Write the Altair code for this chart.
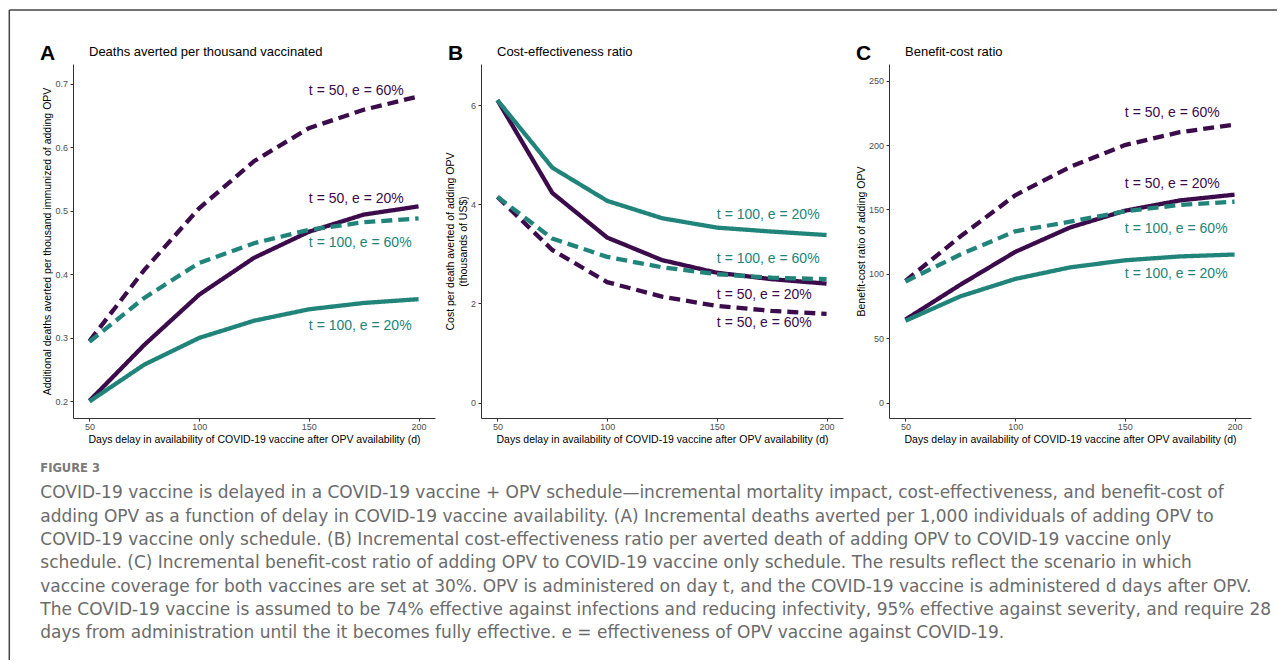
import altair as alt
import pandas as pd

days = [50, 75, 100, 125, 150, 175, 200]
series = ["t = 50, e = 60%", "t = 50, e = 20%", "t = 100, e = 60%", "t = 100, e = 20%"]
series_t = ["t = 50", "t = 50", "t = 100", "t = 100"]
series_e = ["60%", "20%", "60%", "20%"]

# Panel A: deaths averted per thousand vaccinated
a_t50_e60 = [0.295, 0.407, 0.504, 0.578, 0.630, 0.659, 0.680]
a_t50_e20 = [0.201, 0.289, 0.368, 0.426, 0.467, 0.494, 0.507]
a_t100_e60 = [0.294, 0.363, 0.418, 0.449, 0.470, 0.482, 0.488]
a_t100_e20 = [0.200, 0.258, 0.300, 0.327, 0.345, 0.355, 0.361]
a_label_y = [0.688, 0.518, 0.449, 0.319]

# Panel B: cost-effectiveness ratio (thousands of US$)
b_t50_e60 = [4.15, 3.08, 2.43, 2.14, 1.95, 1.85, 1.79]
b_t50_e20 = [6.10, 4.23, 3.33, 2.875, 2.62, 2.49, 2.40]
b_t100_e60 = [4.15, 3.31, 2.94, 2.73, 2.59, 2.52, 2.49]
b_t100_e20 = [6.10, 4.74, 4.07, 3.72, 3.53, 3.45, 3.38]
b_label_y = [1.60, 2.18, 2.89, 3.78]

# Panel C: benefit-cost ratio
c_t50_e60 = [94.5, 129, 161, 183, 200, 210, 216]
c_t50_e20 = [64.5, 91.5, 117, 136, 149, 157, 161.5]
c_t100_e60 = [94, 115, 133, 140.5, 148.5, 153.5, 156]
c_t100_e20 = [63.5, 82.5, 96, 105, 110.5, 113.5, 115]
c_label_y = [224.7, 169.6, 134.6, 99.7]

label_x = 150

x_ticks = [50, 100, 150, 200]
a_ticks = [0.2, 0.3, 0.4, 0.5, 0.6, 0.7]
b_ticks = [0, 2, 4, 6]
c_ticks = [0, 50, 100, 150, 200, 250]

caption_head = "FIGURE 3"
caption_lines = [
    "COVID-19 vaccine is delayed in a COVID-19 vaccine + OPV schedule\u2014incremental mortality impact, cost-effectiveness, and benefit-cost of",
    "adding OPV as a function of delay in COVID-19 vaccine availability. (A) Incremental deaths averted per 1,000 individuals of adding OPV to",
    "COVID-19 vaccine only schedule. (B) Incremental cost-effectiveness ratio per averted death of adding OPV to COVID-19 vaccine only",
    "schedule. (C) Incremental benefit-cost ratio of adding OPV to COVID-19 vaccine only schedule. The results reflect the scenario in which",
    "vaccine coverage for both vaccines are set at 30%. OPV is administered on day t, and the COVID-19 vaccine is administered d days after OPV.",
    "The COVID-19 vaccine is assumed to be 74% effective against infections and reducing infectivity, 95% effective against severity, and require 28",
    "days from administration until the it becomes fully effective. e = effectiveness of OPV vaccine against COVID-19.",
]

PURPLE = "#3b0b4c"
TEAL = "#21847a"
FONT = "Liberation Sans"
CAP_FONT = "DejaVu Sans"

color_scale = alt.Scale(domain=["t = 50", "t = 100"], range=[PURPLE, TEAL])
dash_scale = alt.Scale(domain=["20%", "60%"], range=[[1, 0], [11, 6]])
x_title = "Days delay in availability of COVID-19 vaccine after OPV availability (d)"


def long_df(vals):
    rows = []
    for s, t, e, v in zip(series, series_t, series_e, vals):
        for d, y in zip(days, v):
            rows.append({"day": d, "value": y, "series": s, "t": t, "e": e})
    return pd.DataFrame(rows)


def label_df(ys):
    return pd.DataFrame({"day": [label_x] * 4, "value": ys, "label": series, "t": series_t})


def panel(vals, label_ys, ydomain, yticks, yfmt, ytitle, letter, title, extra=None):
    df = long_df(vals)
    xscale = alt.Scale(domain=[42.5, 207.5], nice=False, zero=False)
    yscale = alt.Scale(domain=ydomain, nice=False, zero=False)
    xaxis = alt.Axis(values=x_ticks, title=x_title, grid=False, labelPadding=1, titlePadding=3)
    yaxis = alt.Axis(values=yticks, format=yfmt, title=ytitle, grid=False,
                     labelPadding=2.5, titlePadding=2)
    lines = alt.Chart(df).mark_line(strokeWidth=4.3, strokeCap="butt").encode(
        x=alt.X("day:Q", scale=xscale, axis=xaxis),
        y=alt.Y("value:Q", scale=yscale, axis=yaxis),
        color=alt.Color("t:N", scale=color_scale, legend=None),
        strokeDash=alt.StrokeDash("e:N", scale=dash_scale, legend=None),
        detail="series:N",
    )
    labels = alt.Chart(label_df(label_ys)).mark_text(
        align="left", baseline="middle", fontSize=14, font=FONT
    ).encode(
        x=alt.X("day:Q", scale=xscale, axis=xaxis),
        y=alt.Y("value:Q", scale=yscale, axis=(None if extra else yaxis)),
        text="label:N",
        color=alt.Color("t:N", scale=color_scale, legend=None),
    )
    heads = pd.DataFrame({"k": [letter], "title": [title]})
    let = alt.Chart(heads).mark_text(
        align="left", baseline="alphabetic", fontSize=21, fontWeight="bold", font=FONT, color="black"
    ).encode(x=alt.value(-33), y=alt.value(-4), text="k:N")
    ttl = alt.Chart(heads).mark_text(
        align="left", baseline="alphabetic", fontSize=13, font=FONT, color="black"
    ).encode(x=alt.value(16), y=alt.value(-8), text="title:N")
    layers = [lines, labels, let, ttl] + (extra or [])
    ch = alt.layer(*layers).properties(width=362, height=354)
    if extra:
        ch = ch.resolve_scale(y="independent")
    return ch


# caption and figure frame, placed relative to panel A
cap_df = pd.DataFrame({"i": list(range(len(caption_lines))), "text": caption_lines})
cap_text = alt.Chart(cap_df).mark_text(
    align="left", baseline="middle", fontSize=17, font=CAP_FONT, color="#6b6b6b"
).encode(
    x=alt.value(-32.7),
    y=alt.Y("i:O", axis=None, scale=alt.Scale(type="point", range=[429.3, 569.3], padding=0)),
    text="text:N",
)
fig_label = alt.Chart(pd.DataFrame({"k": [caption_head]})).mark_text(
    align="left", baseline="middle", fontSize=11.5, fontWeight="bold", font=CAP_FONT, color="#7a7a7a"
).encode(x=alt.value(-32.7), y=alt.value(405), text="k:N")

one = pd.DataFrame({"k": [0]})
frame_v = alt.Chart(one).mark_rule(color="#444444", strokeWidth=1.5).encode(
    x=alt.value(-63.7), y=alt.value(-54), y2=alt.value(596)
)
frame_h = alt.Chart(one).mark_rule(color="#444444", strokeWidth=1.5).encode(
    x=alt.value(-63.7), x2=alt.value(1204), y=alt.value(-54)
)

pa = panel([a_t50_e60, a_t50_e20, a_t100_e60, a_t100_e20], a_label_y, [0.174, 0.731], a_ticks, ".1f",
           "Additional deaths averted per thousand immunized of adding OPV", "A",
           "Deaths averted per thousand vaccinated",
           extra=[cap_text, fig_label, frame_v, frame_h])
pb = panel([b_t50_e60, b_t50_e20, b_t100_e60, b_t100_e20], b_label_y, [-0.31, 6.83], b_ticks, "d",
           ["Cost per death averted of adding OPV", "(thousands of US$)"], "B",
           "Cost-effectiveness ratio")
pc = panel([c_t50_e60, c_t50_e20, c_t100_e60, c_t100_e20], c_label_y, [-12, 263], c_ticks, "d",
           "Benefit-cost ratio of adding OPV", "C", "Benefit-cost ratio")

chart = alt.hconcat(pa, pb, pc, spacing=46, bounds="flush").properties(
    padding={"left": 0, "top": 1, "right": 0, "bottom": 0},
    background="white",
).configure_view(stroke=None).configure_axis(
    grid=False, domainColor="#333333", domainWidth=1, tickColor="#333333", tickSize=3,
    labelColor="#4d4d4d", labelFontSize=9, labelFont=FONT,
    titleFontSize=10.5, titleFontWeight="normal", titleColor="black", titleFont=FONT,
)

chart.save("out.html", embed_options={"renderer": "svg", "actions": False})
